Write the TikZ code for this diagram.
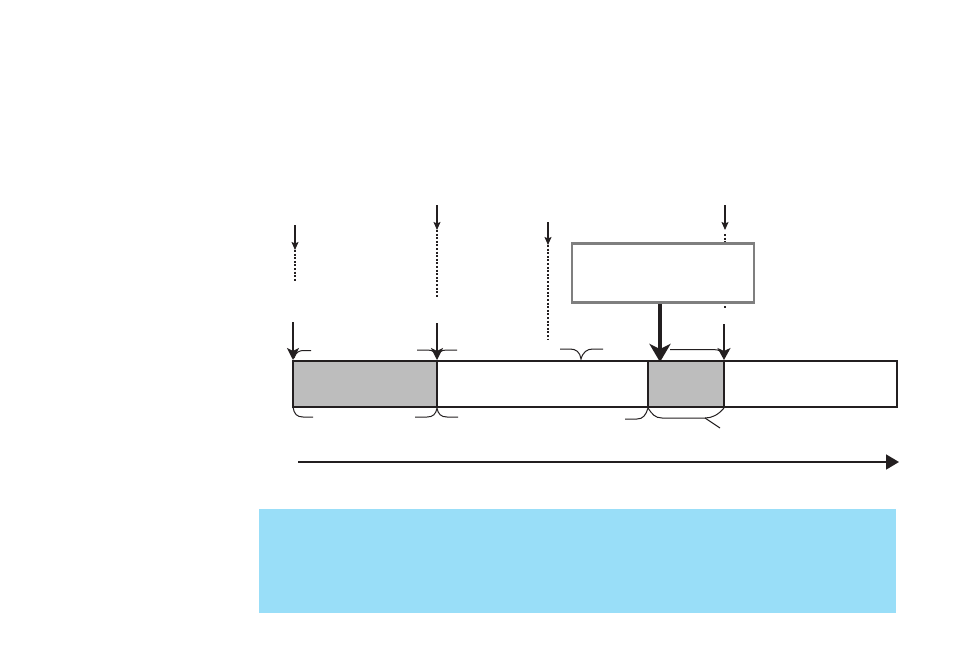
\documentclass[tikz,border=0pt]{standalone}
\usetikzlibrary{arrows.meta}
\definecolor{bandblue}{HTML}{99DEF8}
\definecolor{cellgray}{HTML}{BDBDBD}
\definecolor{boxgray}{HTML}{7F7F7F}
\definecolor{ink}{HTML}{231F20}
\begin{document}
\begin{tikzpicture}[x=1pt,y=-1pt,
  thinarrow/.style={draw=ink,line width=1.1pt,-{Stealth[length=8pt,width=7pt,inset=1.5pt]}},
  midarrow/.style={draw=ink,line width=1.8pt,-{Stealth[length=12pt,width=12pt,inset=3pt]}},
  bigarrow/.style={draw=ink,line width=3.5pt,-{Stealth[length=18pt,width=21pt,inset=5pt]}},
  dashline/.style={draw=ink,line width=1.1pt,dash pattern=on 2pt off 1.6pt},
  bracket/.style={draw=ink,line width=1pt},
  barline/.style={draw=ink,line width=2pt},
]
\useasboundingbox (0,0) rectangle (954,664);
% blue band
\fill[bandblue] (259,509) rectangle (896,613);
\node[coordinate] (band) at (577,561) {};
% grey cells
\fill[cellgray] (293,361) rectangle (437,407);
\fill[cellgray] (648,361) rectangle (724,407);
% bar
\node[barline,minimum width=604pt,minimum height=46pt,inner sep=0pt] (bar) at (595,384) {};
\draw[barline] (437,361) -- (437,407);
\draw[barline] (648,361) -- (648,407);
\draw[barline] (724,361) -- (724,407);
% time axis
\coordinate (axA) at (298,462);
\coordinate (axB) at (899,462);
\draw[ink,line width=1.8pt,-{Triangle[length=13pt,width=15pt]}] (axA) -- (axB);
% coordinates for top arrows
\coordinate (a1s) at (295,225); \coordinate (a1e) at (295,250); \coordinate (d1e) at (295,282);
\coordinate (a2s) at (437,205); \coordinate (a2e) at (437,230); \coordinate (d2e) at (437,298);
\coordinate (a3s) at (548,222); \coordinate (a3e) at (548,245); \coordinate (d3e) at (548,339);
\coordinate (a4s) at (725,205); \coordinate (a4e) at (725,230); \coordinate (d4e) at (725,309);
\draw[thinarrow] (a1s) -- (a1e);
\draw[dashline] (a1e) -- (d1e);
\draw[thinarrow] (a2s) -- (a2e);
\draw[dashline] (a2e) -- (d2e);
\draw[thinarrow] (a3s) -- (a3e);
\draw[dashline] (a3e) -- (d3e);
\draw[thinarrow] (a4s) -- (a4e);
\draw[dashline] (725,234) -- (d4e);
% box
\node[draw=boxgray,fill=white,line width=2.5pt,minimum width=182pt,minimum height=59pt,inner sep=0pt] (box) at (663,273) {};
% lower arrows
\coordinate (b1s) at (293,322); \coordinate (b1e) at (293,360);
\coordinate (b2s) at (437,323); \coordinate (b2e) at (437,360);
\coordinate (b4s) at (724,324); \coordinate (b4e) at (724,360);
\coordinate (bigE) at (660,362);
\draw[midarrow] (b1s) -- (b1e);
\draw[midarrow] (b2s) -- (b2e);
\draw[draw=ink,line width=1.5pt,-{Stealth[length=12pt,width=13pt,inset=3pt]}] (b4s) -- (b4e);
\draw[bigarrow] (box.south -| bigE) -- (bigE);
% brackets
\draw[bracket] (294,358) .. controls (296,352) and (299,350.5) .. (304,350.5) -- (311,350.5);
\draw[bracket] (417,350) -- (427,350) .. controls (433,350) and (436,352) .. (437,358) .. controls (438,352) and (441,350) .. (447,350) -- (457,350);
\draw[bracket] (293,407) .. controls (294,414) and (297,417) .. (303,417) -- (313,417);
\draw[bracket] (415,417) -- (427,417) .. controls (433,417) and (436,414) .. (437,408) .. controls (438,414) and (441,417) .. (447,417) -- (458,417);
\draw[bracket] (560,349) -- (570,349) .. controls (576,349) and (580,352) .. (581,359) .. controls (583,352) and (587,349) .. (593,349) -- (603,349);
\draw[bracket] (670,349.5) -- (713,349.5) .. controls (720,349.5) and (723,352) .. (724,357);
\draw[bracket] (625,419) -- (637,419) .. controls (643,419) and (646,415) .. (648,408) .. controls (652,414) and (655,418) .. (662,418) -- (705,418) .. controls (712,418) and (718,415) .. (724,408);
\draw[bracket] (705,418) -- (720,428);
\end{tikzpicture}
\end{document}
